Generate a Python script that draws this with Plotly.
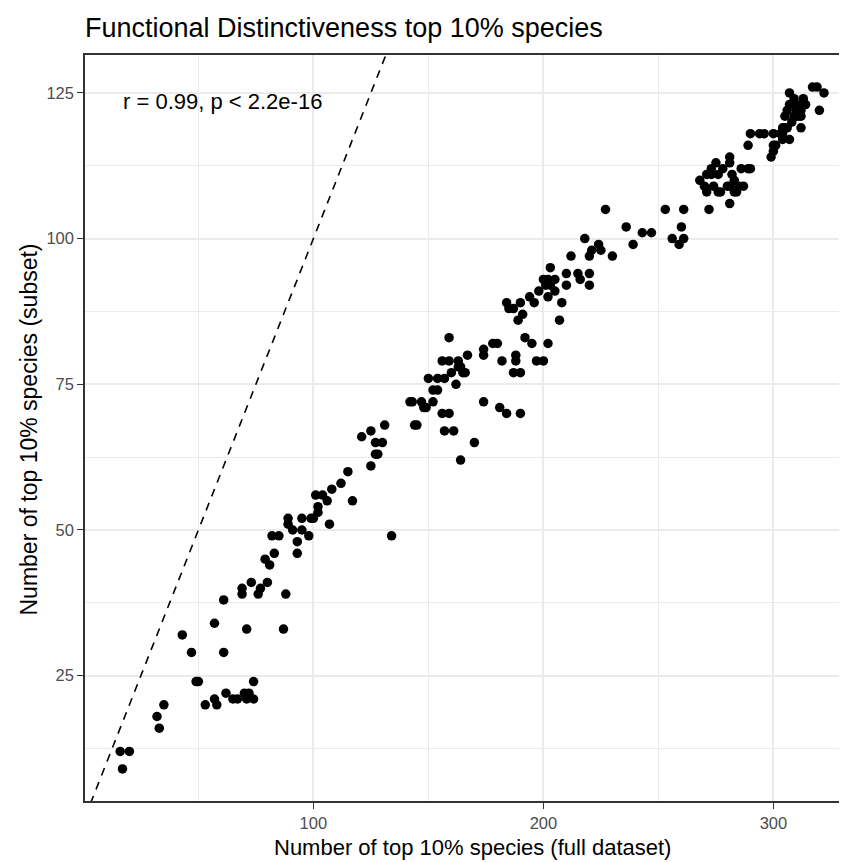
import plotly.graph_objects as go

# ---- data ----
full_dataset = [
    16, 20, 17, 32, 33, 35, 43, 47, 49, 50, 53, 57, 58, 57, 61, 61, 62, 65, 67, 70, 71, 72, 74, 74, 71,
    69, 69, 73, 76, 77, 80, 79, 81, 88, 87,
    83, 82, 85, 89, 89, 91, 93, 93, 95, 95, 98, 99, 101, 104, 106, 102, 102, 100, 107, 108, 112, 115,
    117, 121, 125, 131, 127, 130, 127, 128, 125, 134, 142,
    164, 170, 157, 161, 156, 159, 144, 145, 143, 147, 148, 149, 152, 152, 154, 150, 154, 157, 162, 156,
    159, 159, 163, 164, 160, 163, 165, 166, 167, 174, 174, 174, 178, 180, 182, 181, 184, 190, 187, 190,
    188, 188, 197, 200, 192, 195, 202, 189, 207,
    191, 184, 185, 187, 190, 194, 196, 202, 198, 200, 202, 205, 201, 203, 205, 203, 208, 210, 210, 215,
    216, 220, 220, 212, 218, 220, 221, 224, 225, 230, 227, 236, 239, 243, 247, 253, 261, 260, 256, 259,
    261, 272, 281,
    268, 270, 271, 273, 275, 276, 278, 281, 281, 282, 280, 283, 285, 283, 286, 287, 290, 274, 271, 273,
    277, 276, 281, 284, 289,
    289, 290, 294, 296, 300, 303, 300, 300, 299, 301, 304, 305, 306, 307, 309, 307, 307, 309, 310, 312,
    314, 312, 312, 312, 317, 319, 322, 320, 310, 308, 304, 304, 306, 309, 313, 311, 305,
]
subset = [
    12, 12, 9, 18, 16, 20, 32, 29, 24, 24, 20, 21, 20, 34, 38, 29, 22, 21, 21, 22, 21, 22, 21, 24, 33,
    40, 39, 41, 39, 40, 41, 45, 44, 39, 33,
    46, 49, 49, 52, 51, 50, 48, 46, 52, 50, 49, 52, 56, 56, 55, 54, 53, 52, 51, 57, 58, 60,
    55, 66, 67, 68, 65, 65, 63, 63, 61, 49, 72,
    62, 65, 67, 67, 70, 70, 68, 68, 72, 72, 71, 71, 72, 74, 74, 76, 76, 76, 75, 79,
    79, 83, 79, 78, 77, 78, 77, 77, 80, 81, 80, 72, 82, 82, 79, 71, 70, 70, 77, 77,
    80, 79, 79, 79, 83, 82, 82, 86, 86,
    87, 89, 88, 88, 89, 90, 89, 90, 91, 93, 93, 93, 92, 92, 91, 95, 89, 92, 94, 94,
    93, 94, 92, 97, 100, 97, 98, 99, 98, 97, 105, 102, 99, 101, 101, 105, 105, 102, 100, 99,
    100, 105, 106,
    110, 109, 108, 111, 113, 108, 112, 114, 113, 111, 109, 110, 109, 108, 112, 109, 112, 109, 111, 112,
    108, 111, 109, 108, 112,
    116, 118, 118, 118, 118, 118, 116, 115, 114, 116, 119, 121, 122, 123, 123, 117, 125, 121, 121, 123,
    123, 122, 121, 119, 126, 126, 125, 122, 122, 120, 118, 117, 119, 124, 124, 121, 119,
]

title_text = "Functional Distinctiveness top 10% species"
x_title = "Number of top 10% species (full dataset)"
y_title = "Number of top 10% species (subset)"
cor_label = "r = 0.99, p < 2.2e-16"
x_ticks = [100, 200, 300]
y_ticks = [25, 50, 75, 100, 125]
ref_slope = 1
ref_intercept = 0

x_range = [0.7, 332]
y_range = [3.5, 131.5]

FONT = "Liberation Sans, Arial, sans-serif"

# the page body adds an 8px margin, so the figure is sized to fill the window from there
W, H = 839, 854

fig = go.Figure()

# identity reference line (dashed)
line_x = [x_range[0], x_range[1]]
line_y = [ref_intercept + ref_slope * v for v in line_x]
fig.add_trace(go.Scatter(
    x=line_x, y=line_y, mode="lines",
    line=dict(color="black", width=1.6, dash="8px,7px"),
    hoverinfo="skip", showlegend=False,
))

fig.add_trace(go.Scatter(
    x=full_dataset, y=subset, mode="markers",
    marker=dict(color="black", size=9.5, line=dict(width=0)),
    showlegend=False,
))

fig.add_annotation(
    x=16.3, y=123.5, xref="x", yref="y", text=cor_label, showarrow=False,
    xanchor="left", yanchor="middle", font=dict(family=FONT, size=22, color="black"),
)

# axis titles
fig.add_annotation(
    x=0.508, y=-0.0617, xref="paper", yref="paper", text=x_title, showarrow=False,
    xanchor="center", yanchor="middle", font=dict(family=FONT, size=22, color="black"),
)
fig.add_annotation(
    x=-0.0735, y=0.498, xref="paper", yref="paper", text=y_title, showarrow=False,
    textangle=-90, xanchor="center", yanchor="middle",
    font=dict(family=FONT, size=23, color="black"),
)

axis_common = dict(
    showline=True, linecolor="#333333", linewidth=1.5,
    ticks="outside", ticklen=6, tickwidth=1.2, tickcolor="#333333",
    tickfont=dict(family=FONT, size=16.5, color="#4D4D4D"),
    showgrid=True, gridcolor="#EBEBEB", gridwidth=2,
    zeroline=False,
)

fig.update_xaxes(
    range=x_range, tickmode="array", tickvals=x_ticks, ticktext=[str(v) for v in x_ticks],
    mirror=True,
    minor=dict(tickmode="linear", tick0=0, dtick=50, showgrid=True, gridcolor="#EBEBEB",
               gridwidth=1, ticks=""),
    **axis_common,
)
fig.update_yaxes(
    range=y_range, tickmode="array", tickvals=y_ticks, ticktext=[str(v) for v in y_ticks],
    minor=dict(tickmode="linear", tick0=0, dtick=12.5, showgrid=True, gridcolor="#EBEBEB",
               gridwidth=1, ticks=""),
    **axis_common,
)

fig.update_layout(
    width=W, height=H,
    margin=dict(l=77, r=0, t=47, b=61, pad=0),
    paper_bgcolor="white", plot_bgcolor="white",
    title=dict(text=title_text, x=77 / W, xanchor="left", xref="container",
               y=1 - 20 / H, yanchor="middle", yref="container",
               font=dict(family=FONT, size=27, color="black")),
    font=dict(family=FONT),
)

fig.write_html("out.html")
